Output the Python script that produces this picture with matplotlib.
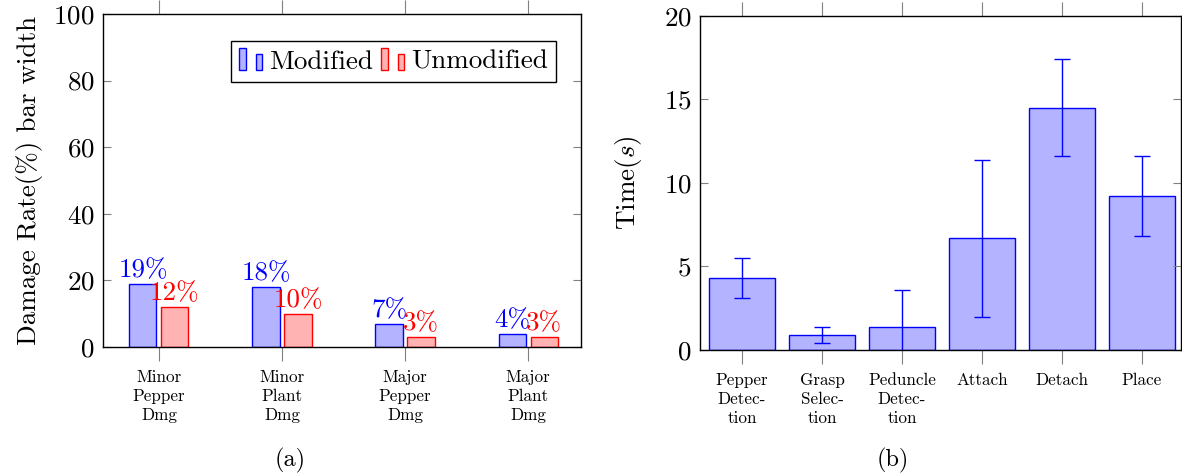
import matplotlib
matplotlib.use('Agg')
import matplotlib.pyplot as plt
import numpy as np
from matplotlib.patches import Rectangle
from matplotlib.legend_handler import HandlerBase

plt.rcParams['font.family'] = ['cmr10', 'DejaVu Serif']
plt.rcParams['mathtext.fontset'] = 'cm'
plt.rcParams['axes.formatter.use_mathtext'] = True

# (a) damage rates
dmg_labels = ['Minor\nPepper\nDmg', 'Minor\nPlant\nDmg', 'Major\nPepper\nDmg', 'Major\nPlant\nDmg']
modified = [19, 18, 7, 4]
unmodified = [12, 10, 3, 3]

# (b) timing
step_labels = ['Pepper\nDetec-\ntion', 'Grasp\nSelec-\ntion', 'Peduncle\nDetec-\ntion',
               'Attach', 'Detach', 'Place']
step_time = [4.3, 0.9, 1.4, 6.7, 14.5, 9.2]
step_err = [1.2, 0.48, 2.2, 4.7, 2.9, 2.4]

BLUE_FILL = '#b3b3ff'
RED_FILL = '#ffb3b3'
BIG = 19.5
SMALL = 12.3


class TwoBars(HandlerBase):
    # pgfplots style ybar legend: two small bars
    def create_artists(self, legend, orig, xd, yd, w, h, fontsize, trans):
        fc, ec = orig.get_facecolor(), orig.get_edgecolor()
        bw = 0.27 * w
        y0 = yd - 0.1 * h
        r1 = Rectangle((xd, y0), bw, 1.05 * h, fc=fc, ec=ec, lw=1, transform=trans)
        r2 = Rectangle((xd + 0.73 * w, y0), bw, 0.77 * h, fc=fc, ec=ec, lw=1, transform=trans)
        return [r1, r2]


def style_axes(ax):
    for s in ax.spines.values():
        s.set_linewidth(1.0)
    ax.tick_params(axis='y', direction='in', left=True, right=True, length=6,
                   color='gray', labelsize=BIG, pad=6)
    ax.tick_params(axis='x', direction='out', bottom=True, top=True, length=10,
                   color='gray', labelsize=SMALL, pad=6)


fig = plt.figure(figsize=(11.82, 4.75), dpi=100)

# ---- (a)
ax1 = fig.add_axes([0.0871, 0.2695, 0.4044, 0.7010])
x = np.arange(len(dmg_labels))
w = 0.22
b1 = ax1.bar(x - 0.13, modified, w, color=BLUE_FILL, edgecolor='blue', lw=1)
b2 = ax1.bar(x + 0.13, unmodified, w, color=RED_FILL, edgecolor='red', lw=1)
for xi, v in zip(x, modified):
    ax1.text(xi - 0.13, v + 0.5, f'{v}%', color='blue', ha='center', va='bottom', fontsize=BIG)
for xi, v in zip(x, unmodified):
    ax1.text(xi + 0.13, v + 0.5, f'{v}%', color='red', ha='center', va='bottom', fontsize=BIG)
ax1.set_xlim(-0.455, 3.43)
ax1.set_ylim(0, 100)
ax1.set_yticks([0, 20, 40, 60, 80, 100])
ax1.set_xticks(x)
ax1.set_xticklabels(dmg_labels, linespacing=1.3)
ax1.set_ylabel('Damage Rate(%) bar width', fontsize=BIG, labelpad=7)
style_axes(ax1)
leg = ax1.legend([b1.patches[0], b2.patches[0]], ['Modified', 'Unmodified'],
                 handler_map={Rectangle: TwoBars()}, loc='upper right',
                 bbox_to_anchor=(0.948, 0.919), borderaxespad=0, ncol=2, fontsize=BIG,
                 frameon=True, fancybox=False, edgecolor='black', framealpha=1,
                 handlelength=0.85, handletextpad=0.25, columnspacing=0.3,
                 borderpad=0.3, handleheight=0.8)
leg.get_frame().set_linewidth(1.0)

# ---- (b)
ax2 = fig.add_axes([0.5922, 0.2632, 0.4070, 0.7032])
x2 = np.arange(len(step_labels))
ax2.bar(x2, step_time, 0.83, color=BLUE_FILL, edgecolor='blue', lw=1)
ax2.errorbar(x2, step_time, yerr=step_err, fmt='none', ecolor='blue', elinewidth=1,
             capsize=6, capthick=1)
ax2.set_xlim(-0.525, 5.49)
ax2.set_ylim(0, 20)
ax2.set_yticks([0, 5, 10, 15, 20])
ax2.set_xticks(x2)
ax2.set_xticklabels(step_labels, linespacing=1.3)
ax2.set_ylabel('Time($s$)', fontsize=BIG, labelpad=14)
style_axes(ax2)

fig.text(290 / 1182, 1 - 460 / 475, '(a)', ha='center', va='center', fontsize=BIG - 2)
fig.text(893 / 1182, 1 - 460 / 475, '(b)', ha='center', va='center', fontsize=BIG - 2)

fig.savefig('out.png', dpi=100)
